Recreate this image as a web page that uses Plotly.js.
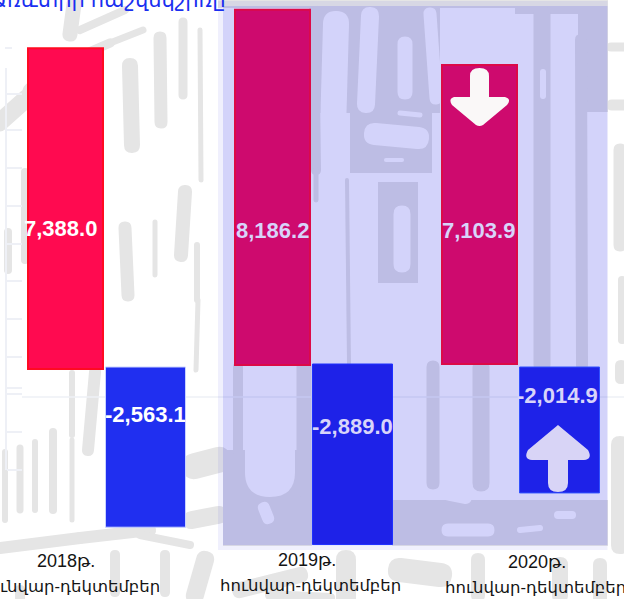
<!DOCTYPE html>
<html>
<head>
<meta charset="utf-8">
<script src="https://cdn.plot.ly/plotly-3.0.1.min.js"></script>
<style>html,body{margin:0;padding:0;background:#fff;overflow:hidden}#c{width:624px;height:599px}</style>
</head>
<body>
<div id="c"></div>
<script>
const categories = [0, 1, 2];
const yearLabels = ['2018թ.', '2019թ.', '2020թ.'];
const periodLabel = 'հունվար-դեկտեմբեր';
const titleText = 'Առևտրի հաշվեկշիռը';
const exportsValues = [7388.0, 8186.2, 7103.9];
const balanceValues = [-2563.1, -2889.0, -2014.9];

const W = 624, H = 599;
const fmt = v => v.toLocaleString('en-US', {minimumFractionDigits: 1, maximumFractionDigits: 1});
const px = (x, y) => (x / W).toFixed(5) + ',' + (1 - y / H).toFixed(5);

function capsule(x0, y0, x1, y1, w, color) {
  const dx = x1 - x0, dy = y1 - y0, L = Math.hypot(dx, dy) || 1;
  const ux = dx / L, uy = dy / L, nx = -uy * w / 2, ny = ux * w / 2, ex = ux * w / 2, ey = uy * w / 2;
  const d = 'M' + px(x0 + nx, y0 + ny) + 'L' + px(x1 + nx, y1 + ny) +
    'Q' + px(x1 + nx + ex, y1 + ny + ey) + ' ' + px(x1 + ex, y1 + ey) +
    'Q' + px(x1 - nx + ex, y1 - ny + ey) + ' ' + px(x1 - nx, y1 - ny) +
    'L' + px(x0 - nx, y0 - ny) +
    'Q' + px(x0 - nx - ex, y0 - ny - ey) + ' ' + px(x0 - ex, y0 - ey) +
    'Q' + px(x0 + nx - ex, y0 + ny - ey) + ' ' + px(x0 + nx, y0 + ny) + 'Z';
  return {type: 'path', xref: 'paper', yref: 'paper', path: d, fillcolor: color, line: {width: 0}, layer: 'below'};
}
function box(x0, y0, x1, y1, color) {
  return {type: 'rect', xref: 'paper', yref: 'paper', x0: x0 / W, x1: x1 / W, y0: 1 - y1 / H, y1: 1 - y0 / H,
    fillcolor: color, line: {width: 0}, layer: 'below'};
}
function seg(x0, y0, x1, y1, w, color) {
  return {type: 'line', xref: 'paper', yref: 'paper', x0: x0 / W, x1: x1 / W, y0: 1 - y0 / H, y1: 1 - y1 / H,
    line: {width: w, color: color}, layer: 'below'};
}

const G = '#e5e5e5', K = '#ffffff', F = '#eef0f6';
const grey = [
  [74,4,70,34,15],[80,30,125,10,8],[143,30,110,43,7],[110,43,80,56,9],[60,62,30,90,14],[27,98,0,122,18],
  [130,66,132,145,16],[160,38,161,122,13],[183,22,183,95,9],[200,30,201,180,5],[185,192,181,255,14],
  [125,228,128,295,13],[155,222,155,275,5],[197,245,197,300,6],[198,300,196,370,5],[25,172,25,260,8],[8,232,8,270,8],
  [72,373,72,435,6],[95,372,88,450,12],[53,432,53,510,8],[35,442,35,510,6],[20,448,20,510,7],[5,452,5,520,6],[72,440,72,520,5],
  [0,548,80,538,12],[80,538,150,530,12],[115,555,115,592,10],[165,555,165,592,10],[140,535,190,545,8],
  [180,395,176,440,8],[195,466,218,460,26],[192,520,218,515,18],[205,560,195,595,18],[240,590,300,575,16],[270,595,330,598,10],
  [611,47,624,47,9],[612,105,624,105,11],[620,150,620,245,13],[622,280,622,340,8],[621,366,621,378,12],[620,445,620,545,18],
  [400,570,440,575,24],[478,560,478,595,14],[560,565,560,595,16],[600,565,600,598,14],
  [346,560,346,598,20],[20,590,20,598,10]
];
const bgShapes = [];
grey.forEach(g => bgShapes.push(capsule(g[0], g[1], g[2], g[3], g[4], G)));
bgShapes.push(seg(6, 68, 6, 470, 2, F));
[94,130,168,206,244,281,319,357,388,394,432,470].forEach(y => bgShapes.push(seg(7, y, 22, y, 2, F)));
bgShapes.push(seg(5, 48, 12, 48, 2, F));

/* pattern behind the shaded panel */
bgShapes.push(box(218, 0, 608, 8, G));
bgShapes.push(box(311, 4, 440, 113, G));
bgShapes.push(box(350, 113, 432, 173, G));
bgShapes.push(box(515, 4, 608, 14, G));
bgShapes.push(box(578, 4, 608, 112, G));
bgShapes.push(box(223, 450, 312, 546, G));
bgShapes.push(box(392, 500, 608, 546, G));
bgShapes.push(box(378, 182, 418, 283, G));
[
  [336,24,333,130,26],[333,130,330,368,26],[370,16,366,104,18],[405,44,405,92,15],[430,14,436,98,13],
  [375,134,418,138,22],[400,113,420,115,5],[386,160,402,160,4],[402,214,402,264,17],
  [270,385,270,472,50],[264,508,268,518,12],
  [450,494,465,497,14],[448,530,488,530,13],[558,515,572,515,8],[520,530,540,528,6],
  [598,120,604,122,10]
].forEach(g => bgShapes.push(capsule(g[0], g[1], g[2], g[3], g[4], K)));
[
  [314,10,316,170,10],[316,170,316,200,5],[347,180,349,365,4],
  [542,14,542,365,17],[581,40,582,365,12],
  [238,367,238,452,10],[304,367,304,490,15],
  [433,367,433,483,13],[481,367,481,483,17]
].forEach(g => bgShapes.push(capsule(g[0], g[1], g[2], g[3], g[4], G)));
bgShapes.push(capsule(543, 72, 543, 96, 6, K));
bgShapes.push(seg(22, 397, 624, 397, 1.5, F));

/* the shaded panel */
bgShapes.push(box(218, 1, 607.5, 550, 'rgba(0,0,226,0.06)'));
bgShapes.push(box(223, 6, 607.5, 545, 'rgba(0,0,226,0.118)'));

/* arrows */
const downArrow = 'M' + px(470, 76) + 'Q' + px(470, 68) + ' ' + px(479.5, 68) + 'Q' + px(489, 68) + ' ' + px(489, 76) +
  'L' + px(489, 97) + 'L' + px(505, 97) + 'Q' + px(512, 99) + ' ' + px(507, 105) +
  'L' + px(483, 125) + 'Q' + px(479.5, 127) + ' ' + px(476, 125) +
  'L' + px(452, 105) + 'Q' + px(448, 99) + ' ' + px(454, 97) + 'L' + px(470, 97) + 'Z';
const upArrow = 'M' + px(558, 425) +
  'L' + px(588, 450) + 'Q' + px(593, 459) + ' ' + px(584, 460) +
  'L' + px(568, 460) + 'L' + px(568, 483) + 'Q' + px(568, 492) + ' ' + px(558, 492) +
  'Q' + px(548, 492) + ' ' + px(548, 483) + 'L' + px(548, 460) + 'L' + px(532, 460) +
  'Q' + px(523, 459) + ' ' + px(528, 450) + 'Z';
const arrows = [
  {type: 'path', xref: 'paper', yref: 'paper', path: downArrow, fillcolor: '#faf8f8', line: {width: 0}, layer: 'above'},
  {type: 'path', xref: 'paper', yref: 'paper', path: upArrow, fillcolor: '#d8d4f6', line: {width: 0}, layer: 'above'}
];

/* x axis: one unit is one year slot */
const slot = 207, c0 = 106.5;
const xRange = [-c0 / slot, (W - c0) / slot];
const posOffset = -78.5 / slot, posWidth = 75 / slot;
const negOffset = -1 / slot, negWidth = 80 / slot;
/* y scales */
const axisRange = (zeroPx, s) => [-(H - zeroPx) / s, zeroPx / s];

const posBars = {
  type: 'bar', x: categories.slice(0, 2), y: exportsValues.slice(0, 2), base: [-69, 23],
  offset: posOffset, width: posWidth, yaxis: 'y', xaxis: 'x',
  marker: {color: ['#ff0a50', '#ce0a6e'], line: {color: ['#ff0a22', '#dc0a48'], width: 2}},
  textposition: 'none', hoverinfo: 'skip'
};
const posBar2020 = {
  type: 'bar', x: categories.slice(2), y: exportsValues.slice(2),
  offset: posOffset, width: posWidth, yaxis: 'y3', xaxis: 'x',
  marker: {color: '#ce0a6e', line: {color: '#dc0a48', width: 2}},
  textposition: 'none', hoverinfo: 'skip'
};
const negBars = {
  type: 'bar', x: categories, y: balanceValues, base: [0, 48, 0],
  offset: negOffset, width: negWidth, yaxis: 'y2', xaxis: 'x',
  marker: {color: ['#202ff0', '#1e22e8', '#1e22e8'], line: {color: ['#c9d2ff', '#1e30ff', '#3050ff'], width: 1}},
  textposition: 'none', hoverinfo: 'skip'
};

const hidden = {visible: false, fixedrange: true};
const labelFont = {family: '"Liberation Sans", Arial, sans-serif', size: 22, color: '#fff', weight: 700};
const lav = '#d8d4fa';
const note = (x, y, text, font, extra) => Object.assign(
  {xref: 'paper', yref: 'paper', x: x / W, y: 1 - y / H, text: text, showarrow: false, font: font,
   xanchor: 'center', yanchor: 'middle', borderpad: 0, align: 'center'}, extra || {});
const armenian = '"Liberation Sans", "Noto Sans", "DejaVu Sans", sans-serif';
const catFont = {family: armenian, size: 18, color: '#141414'};
const periodFont = {family: armenian, size: 16.5, color: '#141414'};

const annotations = [
  note(60.5, 228, fmt(exportsValues[0]), labelFont),
  note(272.5, 230, fmt(exportsValues[1]), Object.assign({}, labelFont, {color: lav})),
  note(478.5, 230, fmt(exportsValues[2]), Object.assign({}, labelFont, {color: lav})),
  note(145.5, 414, fmt(balanceValues[0]), labelFont),
  note(352.5, 426, fmt(balanceValues[1]), Object.assign({}, labelFont, {color: lav})),
  note(557.5, 395, fmt(balanceValues[2]), Object.assign({}, labelFont, {color: lav})),
  note(66, 561, yearLabels[0], catFont),
  note(69, 586, periodLabel, periodFont),
  note(307, 560, yearLabels[1], catFont),
  note(310, 585, periodLabel, periodFont),
  note(537, 562, yearLabels[2], catFont),
  note(535, 587, periodLabel, periodFont),
  note(108, -1, titleText, {family: armenian, size: 21, color: '#1a2ff0'})
];

Plotly.newPlot('c', [posBars, posBar2020, negBars], {
  width: W, height: H,
  margin: {l: 0, r: 0, t: 0, b: 0, pad: 0},
  paper_bgcolor: '#fff', plot_bgcolor: 'rgba(0,0,0,0)',
  showlegend: false, barmode: 'overlay',
  xaxis: Object.assign({range: xRange, domain: [0, 1]}, hidden),
  yaxis: Object.assign({range: axisRange(366, 0.0434), domain: [0, 1]}, hidden),
  yaxis2: Object.assign({range: axisRange(367, 0.0625), overlaying: 'y', anchor: 'x'}, hidden),
  yaxis3: Object.assign({range: axisRange(364, 0.0421), overlaying: 'y', anchor: 'x'}, hidden),
  shapes: bgShapes.concat(arrows),
  annotations: annotations
}, {staticPlot: true, displayModeBar: false});
</script>
</body>
</html>
